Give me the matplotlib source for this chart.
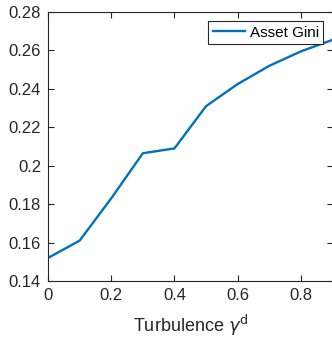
import matplotlib
matplotlib.use("Agg")
import matplotlib.pyplot as plt

turbulence = [0.0, 0.1, 0.2, 0.3, 0.4, 0.5, 0.6, 0.7, 0.8, 0.9]
asset_gini = [0.152, 0.161, 0.183, 0.2065, 0.209, 0.231, 0.2425, 0.252, 0.2595, 0.2655]
xticks = [0, 0.2, 0.4, 0.6, 0.8]
xtick_labels = ["0", "0.2", "0.4", "0.6", "0.8"]
yticks = [0.14, 0.16, 0.18, 0.2, 0.22, 0.24, 0.26, 0.28]
ytick_labels = ["0.14", "0.16", "0.18", "0.2", "0.22", "0.24", "0.26", "0.28"]

plt.rcParams['font.family'] = ['Liberation Sans', 'DejaVu Sans']
plt.rcParams['mathtext.fontset'] = 'dejavusans'

fig = plt.figure(figsize=(3.32, 3.38), dpi=100)
ax = fig.add_axes([48 / 332, 57 / 338, 284.5 / 332, 269 / 338])

ax.plot(turbulence, asset_gini, color='#0072BD', lw=1.7, label='Asset Gini')
ax.set_xlim(0, 0.9)
ax.set_ylim(0.14, 0.28)
ax.set_xticks(xticks)
ax.set_xticklabels(xtick_labels)
ax.set_yticks(yticks)
ax.set_yticklabels(ytick_labels)

edge = '#262626'
for s in ax.spines.values():
    s.set_color(edge)
    s.set_linewidth(0.8)
ax.tick_params(direction='in', length=4, width=0.8, color=edge, labelcolor=edge,
               labelsize=12, top=True, right=True, pad=5)
ax.set_xlabel(r'Turbulence $\gamma^{\mathrm{d}}$', fontsize=13, color=edge, labelpad=7)

leg = ax.legend(loc='upper right', fontsize=11, fancybox=False, framealpha=1,
                edgecolor=edge, borderpad=0.3, handlelength=2.1, handletextpad=0.3,
                borderaxespad=0.6)
leg.get_frame().set_linewidth(0.8)

fig.savefig('out.png', dpi=100)
